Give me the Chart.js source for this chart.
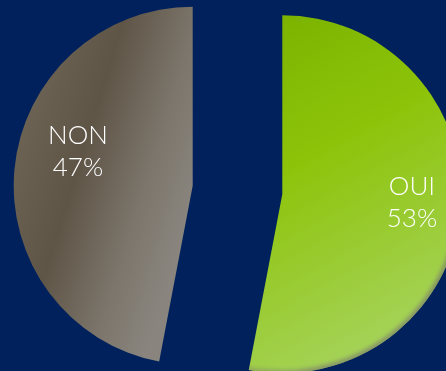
<!DOCTYPE html>
<html>
<head>
<meta charset="utf-8">
<script src="https://cdn.jsdelivr.net/npm/chart.js@4"></script>
<style>
  html, body { margin: 0; padding: 0; background: #00215c; }
  #wrap { width: 446px; height: 371px; position: relative; }
</style>
</head>
<body>
<div id="wrap"><canvas id="vote"></canvas></div>
<script>
// OUI / NON split, exploded pie on navy
const LABELS = ["OUI", "NON"];
const VALUES = [53, 47];

// shaded fills, placed relative to the pie centre (before the slices are pulled apart)
function sliceFill(c) {
  const area = c.chart.chartArea;
  if (!area) return "#888";
  const ctx = c.chart.ctx;
  const cx = (area.left + area.right) / 2, cy = (area.top + area.bottom) / 2;
  if (c.dataIndex === 0) {
    const g = ctx.createLinearGradient(cx, cy - 179, cx + 165, cy + 125);
    g.addColorStop(0, "#7cb300");
    g.addColorStop(0.4, "#8dc40a");
    g.addColorStop(1, "#a6d35c");
    return g;
  }
  const g = ctx.createLinearGradient(cx - 177, cy - 36, cx, cy + 19);
  g.addColorStop(0, "#6b6254");
  g.addColorStop(0.35, "#5f5547");
  g.addColorStop(0.72, "#7c756b");
  g.addColorStop(1, "#89857e");
  return g;
}

// pull each slice out along its middle angle by `pull` px
function shiftOf(arc, pull) {
  const half = (arc.startAngle + arc.endAngle) / 2;
  return { dx: Math.cos(half) * pull, dy: Math.sin(half) * pull };
}

const explode = {
  id: "explode",
  beforeDatasetsDraw(chart, args, opts) {
    const ctx = chart.ctx;
    chart.getDatasetMeta(0).data.forEach((arc) => {
      const s = shiftOf(arc, opts.pull);
      ctx.save();
      ctx.translate(s.dx, s.dy);
      arc.draw(ctx);
      ctx.restore();
    });
    return false;
  },
  afterDraw(chart, args, opts) {
    const ctx = chart.ctx;
    chart.getDatasetMeta(0).data.forEach((arc, i) => {
      const r = arc.outerRadius;
      const s = shiftOf(arc, opts.pull);
      const cx = arc.x + s.dx, cy = arc.y + s.dy;
      if (i === 0) {
        // soft bevel on the lower right of the curved edge
        ctx.save();
        ctx.beginPath();
        ctx.moveTo(cx, cy);
        ctx.arc(cx, cy, r, arc.startAngle, arc.endAngle);
        ctx.closePath();
        ctx.clip();
        const g = ctx.createLinearGradient(cx - r * 0.3, cy - r * 0.6, cx + r * 0.7, cy + r * 0.6);
        g.addColorStop(0, "rgba(120,120,110,0)");
        g.addColorStop(0.6, "rgba(120,120,110,0)");
        g.addColorStop(1, "rgba(120,120,110,0.75)");
        ctx.filter = "blur(2px)";
        ctx.strokeStyle = g;
        ctx.lineWidth = 6;
        ctx.beginPath();
        ctx.arc(cx, cy, r, 0, Math.PI * 2);
        ctx.stroke();
        ctx.restore();
      }

      // label text
      const spot = opts.spots[i];
      const a = (spot.angle - 90) * Math.PI / 180;
      const x = cx + Math.cos(a) * r * spot.r;
      const y = cy + Math.sin(a) * r * spot.r;
      ctx.save();
      ctx.fillStyle = "#ffffff";
      ctx.font = "300 26px Lato, 'Open Sans', sans-serif";
      ctx.textAlign = "center";
      ctx.textBaseline = "middle";
      ctx.fillText(LABELS[i], x, y - 16);
      ctx.fillText(VALUES[i] + "%", x, y + 16);
      ctx.restore();
    });
  }
};

new Chart(document.getElementById("vote"), {
  type: "pie",
  data: {
    labels: LABELS,
    datasets: [{
      data: VALUES,
      backgroundColor: sliceFill,
      borderWidth: 0,
      clip: false,
    }],
  },
  options: {
    responsive: true, maintainAspectRatio: false, animation: false,
    radius: 179,
    layout: { padding: { left: 29, top: 9, right: 0, bottom: 0 } },
    plugins: {
      legend: { display: false },
      tooltip: { enabled: false },
      explode: { pull: 45, spots: [{ angle: 93.9, r: 0.726 }, { angle: 286.4, r: 0.668 }] },
    },
  },
  plugins: [explode],
});
</script>
</body>
</html>
